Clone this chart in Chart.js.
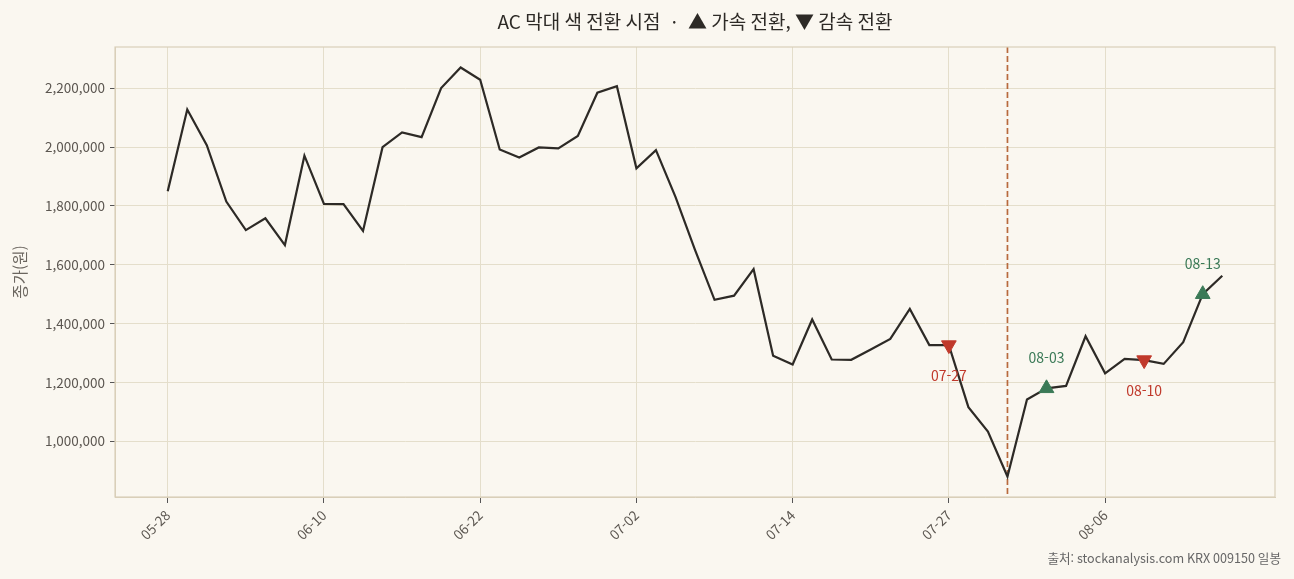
<!DOCTYPE html>
<html lang="ko">
<head>
<meta charset="utf-8">
<title>AC 막대 색 전환 시점</title>
<script src="https://cdn.jsdelivr.net/npm/chart.js@4/dist/chart.umd.min.js"></script>
<style>
  html, body { margin: 0; padding: 0; background: #faf7f0; }
  #wrap { width: 1294px; height: 579px; position: relative; }
</style>
</head>
<body>
<div id="wrap"><canvas id="myChart"></canvas></div>
<script>
// 일봉 날짜 (MM-DD)
var dates = [
    '05-28', '05-29', '06-01', '06-02', '06-03', '06-05', '06-08', '06-09',
    '06-10', '06-11', '06-12', '06-15', '06-16', '06-17', '06-18', '06-19',
    '06-22', '06-23', '06-24', '06-25', '06-26', '06-29', '06-30', '07-01',
    '07-02', '07-03', '07-06', '07-07', '07-08', '07-09', '07-10', '07-13',
    '07-14', '07-15', '07-16', '07-17', '07-20', '07-22', '07-23', '07-24',
    '07-27', '07-28', '07-29', '07-30', '07-31', '08-03', '08-04', '08-05',
    '08-06', '08-07', '08-10', '08-11', '08-12', '08-13', '08-14'
];

// 종가(원)
var closes = [
    1850000, 2128000, 2007000, 1815000, 1718000, 1758000, 1667000, 1971000,
    1807000, 1806000, 1715000, 2000000, 2050000, 2034000, 2201000, 2271000,
    2229000, 1992000, 1965000, 1999000, 1996000, 2038000, 2185000, 2207000,
    1928000, 1990000, 1831000, 1651000, 1481000, 1495000, 1585000, 1291000,
    1261000, 1414000, 1278000, 1277000, 1312000, 1348000, 1450000, 1327000,
    1327000, 1116000, 1033000, 880000, 1142000, 1180000, 1188000, 1357000,
    1231000, 1280000, 1276000, 1263000, 1337000, 1500000, 1563000
];

// AC 막대 색 전환 지점 (dates 인덱스)
var upIdx = [45, 53];     // 가속 전환
var downIdx = [40, 50];   // 감속 전환
var markIdx = 43;         // 점선 표시

// 축 눈금
var xTickIdx = [0, 8, 16, 24, 32, 40, 48];
var yTicks = [1000000, 1200000, 1400000, 1600000, 1800000, 2000000, 2200000];

var FONT = "'Noto Sans CJK KR', 'Noto Sans', sans-serif";
var GREEN = '#3b7a57';
var RED = '#c0392b';

function pts(idx) {
    return idx.map(function (i) { return { x: i, y: closes[i] }; });
}

var lo = Math.min.apply(null, closes), hi = Math.max.apply(null, closes);
var pad = (hi - lo) * 0.05;

// 제목, 출처, 외곽선, 점선, 신호 라벨
var decor = {
    id: 'decor',
    beforeDatasetsDraw: function (chart) {
        var c = chart.ctx, a = chart.chartArea;
        var mx = chart.scales.x.getPixelForValue(markIdx);
        c.save();
        c.strokeStyle = '#b86a3e';
        c.lineWidth = 1.7;
        c.setLineDash([6, 3]);
        c.beginPath();
        c.moveTo(mx, a.top);
        c.lineTo(mx, a.bottom);
        c.stroke();
        c.restore();
    },
    afterDraw: function (chart) {
        var c = chart.ctx, a = chart.chartArea;
        var xs = chart.scales.x, ys = chart.scales.y;
        c.save();
        c.strokeStyle = '#d9cfb9';
        c.lineWidth = 1.2;
        c.strokeRect(a.left, a.top, a.right - a.left, a.bottom - a.top);

        c.font = '14px ' + FONT;
        c.textAlign = 'center';
        c.textBaseline = 'middle';
        upIdx.forEach(function (i) {
            c.fillStyle = GREEN;
            c.fillText(dates[i], xs.getPixelForValue(i), ys.getPixelForValue(closes[i]) - 31);
        });
        downIdx.forEach(function (i) {
            c.fillStyle = RED;
            c.fillText(dates[i], xs.getPixelForValue(i), ys.getPixelForValue(closes[i]) + 31);
        });

        c.fillStyle = '#2d2a26';
        c.font = '19px ' + FONT;
        c.fillText('AC 막대 색 전환 시점  ·  ▲ 가속 전환, ▼ 감속 전환', (a.left + a.right) / 2, 22);

        c.fillStyle = '#666';
        c.font = '12.6px ' + FONT;
        c.textAlign = 'right';
        c.fillText('출처: stockanalysis.com KRX 009150 일봉', 1281, 558);
        c.restore();
    }
};

var ctx = document.getElementById('myChart').getContext('2d');
var myChart = new Chart(ctx, {
    type: 'line',
    data: {
        datasets: [{
            label: '가속 전환',
            type: 'scatter',
            data: pts(upIdx),
            pointStyle: 'triangle',
            pointRadius: 8.5,
            pointBackgroundColor: GREEN,
            pointBorderColor: GREEN,
            pointBorderWidth: 1,
            order: 0
        }, {
            label: '감속 전환',
            type: 'scatter',
            data: pts(downIdx),
            pointStyle: 'triangle',
            rotation: 180,
            pointRadius: 8.5,
            pointBackgroundColor: RED,
            pointBorderColor: RED,
            pointBorderWidth: 1,
            order: 0
        }, {
            label: '종가',
            data: pts(closes.map(function (v, i) { return i; })),
            borderColor: '#2d2a26',
            borderWidth: 2.2,
            pointRadius: 0,
            tension: 0,
            fill: false,
            order: 1
        }]
    },
    options: {
        responsive: true,
        maintainAspectRatio: false,
        animation: false,
        layout: { padding: { top: 47, right: 19, left: 0, bottom: 0 } },
        plugins: {
            legend: { display: false },
            title: { display: false },
            tooltip: { enabled: false }
        },
        scales: {
            x: {
                type: 'linear',
                min: -2.7,
                max: 56.7,
                afterBuildTicks: function (s) {
                    s.ticks = xTickIdx.map(function (v) { return { value: v }; });
                },
                afterFit: function (s) { s.height = 82; },
                ticks: {
                    autoSkip: false,
                    minRotation: 45,
                    maxRotation: 45,
                    color: '#5b5650',
                    font: { family: FONT, size: 13.5 },
                    padding: 4,
                    callback: function (v) { return dates[v]; }
                },
                grid: { color: '#e4decb', tickColor: '#555', tickLength: 6, lineWidth: 1 },
                border: { color: '#d9cfb9' }
            },
            y: {
                min: lo - pad,
                max: hi + pad,
                afterBuildTicks: function (s) {
                    s.ticks = yTicks.map(function (v) { return { value: v }; });
                },
                afterFit: function (s) { s.width = 115; },
                ticks: {
                    color: '#5b5650',
                    font: { family: FONT, size: 13.5 },
                    padding: 5,
                    callback: function (v) { return v.toLocaleString('en-US'); }
                },
                grid: { color: '#e4decb', tickColor: '#555', tickLength: 5, lineWidth: 1 },
                border: { color: '#d9cfb9' },
                title: {
                    display: true,
                    text: '종가(원)',
                    color: '#6b665f',
                    font: { family: FONT, size: 15.5 },
                    padding: { top: 11, bottom: 0 }
                }
            }
        }
    },
    plugins: [decor]
});
</script>
</body>
</html>
